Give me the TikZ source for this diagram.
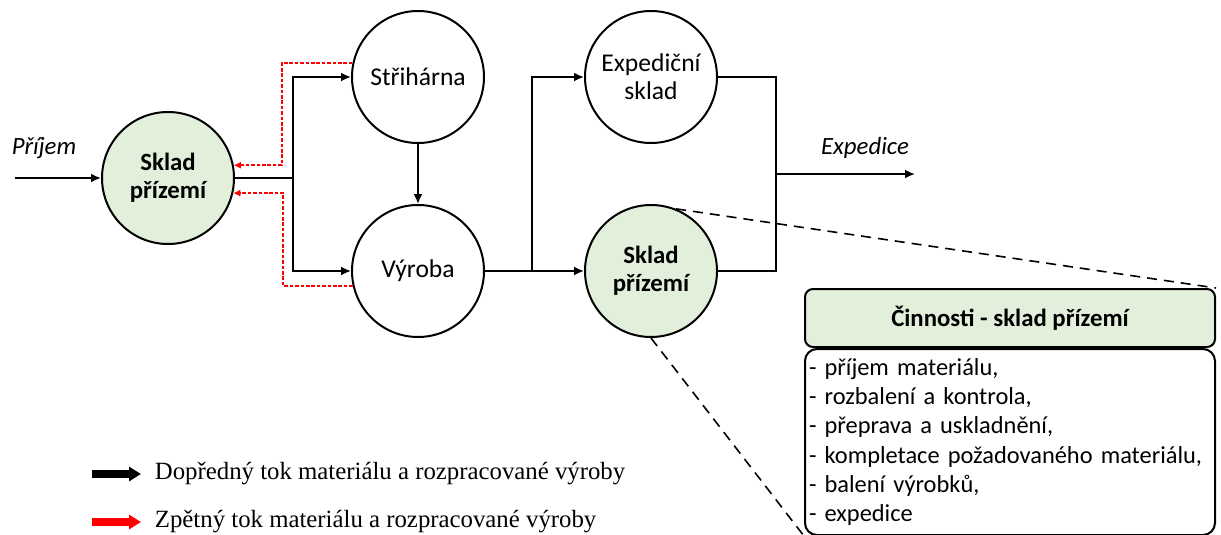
\documentclass[tikz,border=0pt]{standalone}
\usepackage{fontspec}
\setmainfont{Carlito}
\newfontfamily\legfont{Liberation Serif}
\usetikzlibrary{shapes,arrows.meta}
\definecolor{skladgreen}{RGB}{226,239,218}

\begin{document}
\begin{tikzpicture}
	[x=0.5pt,y=-0.5pt,line width=0.9pt,
	every node/.style={inner sep=1pt},
	stanice/.style={shape=circle,draw,line width=1pt,minimum size=66pt,
		align=center,font=\fontsize{12.8}{14}\selectfont},
	sklad/.style={stanice,fill=skladgreen,font=\fontsize{12.4}{14}\selectfont\bfseries},
	tok/.style={-{Latex[length=5pt,width=4.5pt]}},
	zpet/.style={-{Latex[length=3.5pt,width=3.5pt]},color=red,line width=0.8pt,
		dash pattern=on 1.8pt off 0.9pt},
	vyrez/.style={line width=0.8pt,dash pattern=on 5pt off 3.5pt},
	popis/.style={font=\fontsize{12.4}{14}\selectfont\itshape},
	legenda/.style={anchor=west,font=\legfont\fontsize{12.4}{14}\selectfont}]
	\useasboundingbox (0,0) rectangle (1221,535);
	\node[sklad] (sklad1) at (168,178) {Sklad\\přízemí};
	\node[stanice] (stri) at (418,77) {Střihárna};
	\node[stanice] (vyr) at (418,271) {Výroba};
	\node[stanice] (exped) at (651,77) {Expediční\\sklad};
	\node[sklad] (sklad2) at (651,271) {Sklad\\přízemí};
	%%
	\node[popis] (prijem) at (44,148) {Příjem};
	\node[popis] (expedice) at (865,148) {Expedice};
	\coordinate (vstup) at (15,178);
	\coordinate (j1) at (293,178);
	\coordinate (j2) at (532,271);
	\coordinate (j3) at (776,174);
	\coordinate (vystup) at (915,174);
	\coordinate (r1) at ([shift={(48,0)}]sklad1.11);
	\coordinate (r2) at ([shift={(50,0)}]sklad1.-13);
	\path
	\foreach \odkud/\kam in {vstup/sklad1,stri/vyr,j2/sklad2,j3/vystup}
	{
		(\odkud) edge[tok] (\kam)
	};
	\draw (sklad1) -- (j1);
	\draw[tok] (j1) |- (stri);
	\draw[tok] (j1) |- (vyr);
	\draw (vyr) -- (j2);
	\draw[tok] (j2) |- (exped);
	\draw (exped) -| (j3);
	\draw (sklad2) -| (j3);
	\draw[zpet] (stri.168) -| (r1) -- (sklad1.11);
	\draw[zpet] (vyr.193) -| (r2) -- (sklad1.-13);
	%%
	\node[rectangle,draw,line width=1pt,rounded corners=4pt,fill=skladgreen,
		minimum width=205pt,minimum height=29pt,
		font=\fontsize{12.4}{14}\selectfont\bfseries] (hlavicka) at (1010,318)
		{Činnosti - sklad přízemí};
	\node[rectangle,draw,line width=1pt,rounded corners=6pt,minimum width=205pt,
		minimum height=93pt,text width=201pt,inner sep=2pt,align=left,
		font=\fontsize{12.2}{14.6}\selectfont] (cinnosti) at (1010,442)
		{- příjem materiálu,\\- rozbalení a kontrola,\\- přeprava a uskladnění,\\
		- kompletace požadovaného materiálu,\\- balení výrobků,\\- expedice};
	\draw[vyrez] (sklad2.68) -- (hlavicka.north east);
	\draw[vyrez] (sklad2.south) -- (cinnosti.south west);
	%%
	\coordinate (l1a) at (92,474);
	\coordinate (l1b) at (141,474);
	\coordinate (l2a) at (92,522);
	\coordinate (l2b) at (141,522);
	\draw[line width=4pt,-{Triangle[length=6pt,width=7pt]}] (l1a) -- (l1b);
	\draw[red,line width=4pt,-{Triangle[length=6pt,width=7pt]}] (l2a) -- (l2b);
	\node[legenda] (leg1) at (152,474) {Dopředný tok materiálu a rozpracované výroby};
	\node[legenda] (leg2) at (152,522) {Zpětný tok materiálu a rozpracované výroby};
\end{tikzpicture}
\end{document}
